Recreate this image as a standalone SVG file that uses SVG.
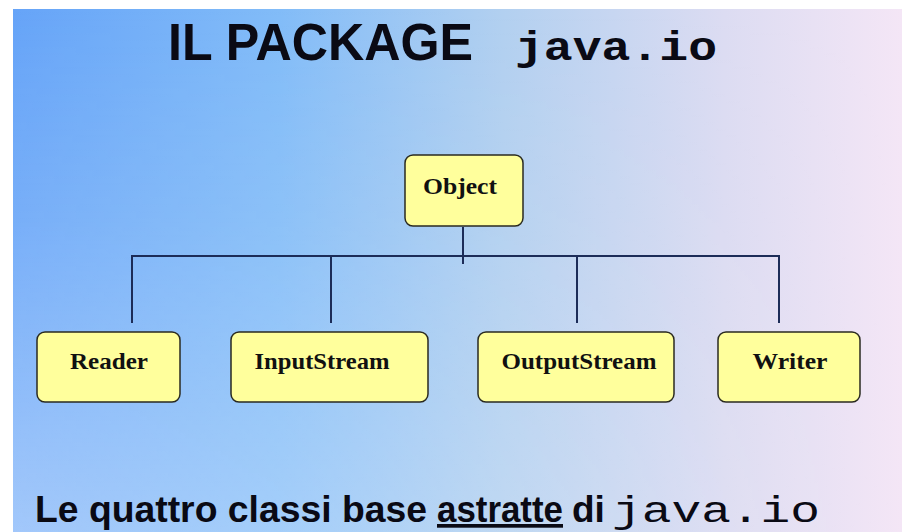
<svg xmlns="http://www.w3.org/2000/svg" width="902" height="532" viewBox="0 0 902 532">
  <defs>
    <linearGradient id="bgH" x1="0" y1="0" x2="1" y2="0">
      <stop offset="0" stop-color="#66a4f8"/>
      <stop offset="0.3" stop-color="#82bcf8"/>
      <stop offset="0.55" stop-color="#b2d0f0"/>
      <stop offset="0.8" stop-color="#dcdcf2"/>
      <stop offset="1" stop-color="#f4e6f6"/>
    </linearGradient>
    <linearGradient id="bgV" x1="0" y1="0" x2="0" y2="1">
      <stop offset="0" stop-color="#ffffff" stop-opacity="0"/>
      <stop offset="0.4" stop-color="#ffffff" stop-opacity="0.12"/>
      <stop offset="1" stop-color="#ffffff" stop-opacity="0.4"/>
    </linearGradient>
    <linearGradient id="bgFade" x1="0" y1="0" x2="1" y2="0">
      <stop offset="0" stop-color="#ffffff" stop-opacity="1"/>
      <stop offset="0.7" stop-color="#ffffff" stop-opacity="0.3"/>
      <stop offset="1" stop-color="#ffffff" stop-opacity="0"/>
    </linearGradient>
    <mask id="fadeMask">
      <rect x="0" y="0" width="902" height="532" fill="url(#bgFade)"/>
    </mask>
  </defs>
  <style>
    .box { fill: #ffff9c; stroke: #2a2a20; stroke-width: 1.5; }
    .lbl { font-family: "Liberation Serif", "Times New Roman", serif; font-weight: bold; font-size: 23px; fill: #111; text-anchor: middle; }
    .conn { stroke: #1c2c58; stroke-width: 2; fill: none; }
    .title { font-family: "Liberation Sans", Arial, sans-serif; font-weight: bold; fill: #0a0a14; }
    .mono { font-family: "Liberation Mono", "Courier New", monospace; fill: #0a0a14; }
  </style>
  <rect x="0" y="0" width="902" height="532" fill="#ffffff"/>
  <rect x="13" y="9" width="889" height="523" fill="url(#bgH)"/>
  <rect x="13" y="9" width="889" height="523" fill="url(#bgV)" mask="url(#fadeMask)"/>

  <g id="title">
    <text class="title" x="168" y="60" font-size="51" textLength="305" lengthAdjust="spacingAndGlyphs">IL PACKAGE</text>
    <text class="mono" x="515" y="60" font-size="40" font-weight="bold" textLength="202" lengthAdjust="spacingAndGlyphs">java.io</text>
  </g>

  <g id="connectors">
    <line class="conn" x1="463" y1="227" x2="463" y2="264"/>
    <line class="conn" x1="131" y1="256" x2="780" y2="256"/>
    <line class="conn" x1="132" y1="255" x2="132" y2="323"/>
    <line class="conn" x1="331" y1="256" x2="331" y2="323"/>
    <line class="conn" x1="577" y1="256" x2="577" y2="323"/>
    <line class="conn" x1="779" y1="255" x2="779" y2="323"/>
  </g>

  <g id="node-object">
    <rect class="box" x="405" y="155" width="118" height="71" rx="8"/>
    <text class="lbl" x="460" y="194" textLength="74" lengthAdjust="spacingAndGlyphs">Object</text>
  </g>
  <g id="node-reader">
    <rect class="box" x="37" y="332" width="143" height="70" rx="8"/>
    <text class="lbl" x="109" y="369" textLength="78" lengthAdjust="spacingAndGlyphs">Reader</text>
  </g>
  <g id="node-inputstream">
    <rect class="box" x="231" y="332" width="197" height="70" rx="8"/>
    <text class="lbl" x="322" y="369" textLength="135" lengthAdjust="spacingAndGlyphs">InputStream</text>
  </g>
  <g id="node-outputstream">
    <rect class="box" x="478" y="332" width="196" height="70" rx="8"/>
    <text class="lbl" x="579" y="369" textLength="155" lengthAdjust="spacingAndGlyphs">OutputStream</text>
  </g>
  <g id="node-writer">
    <rect class="box" x="718" y="332" width="142" height="70" rx="8"/>
    <text class="lbl" x="790" y="369" textLength="75" lengthAdjust="spacingAndGlyphs">Writer</text>
  </g>

  <g id="caption">
    <text class="title" x="35" y="522" font-size="37" textLength="392" lengthAdjust="spacingAndGlyphs">Le quattro classi base</text>
    <text class="title" x="437" y="522" font-size="37" textLength="126" lengthAdjust="spacingAndGlyphs" text-decoration="underline">astratte</text>
    <text class="title" x="572" y="522" font-size="37">di</text>
    <text class="mono" x="612" y="522" font-size="37" textLength="208" lengthAdjust="spacingAndGlyphs">java.io</text>
  </g>
</svg>
